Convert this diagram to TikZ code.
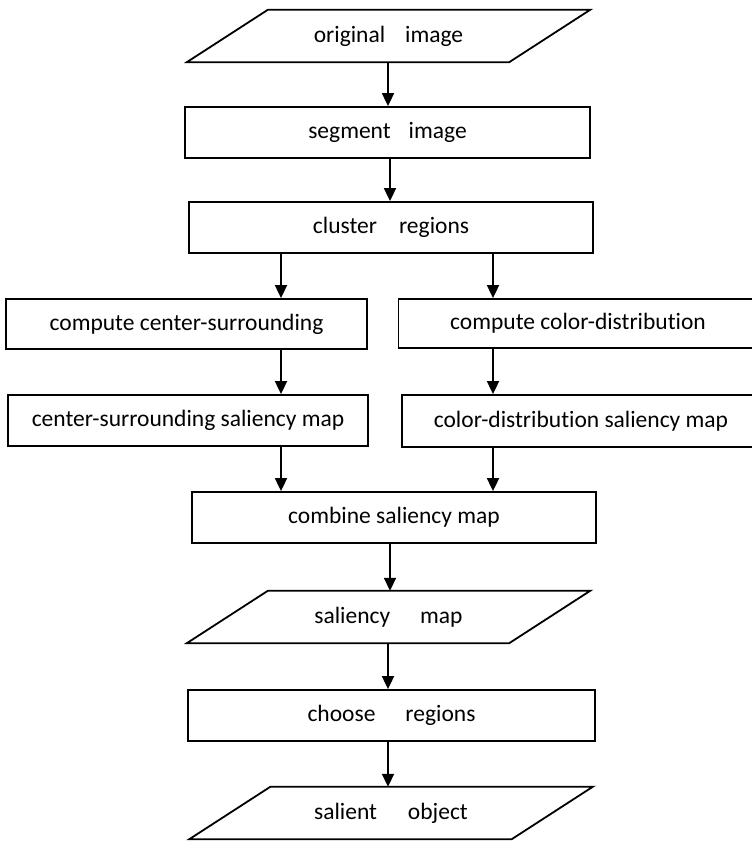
\documentclass[tikz,border=0pt]{standalone}
\usepackage{fontspec}
\setmainfont{Carlito}[Ligatures=NoCommon]
\usetikzlibrary{arrows.meta}
\begin{document}
\begin{tikzpicture}[x=1pt,y=-1pt,
  every node/.style={font=\fontsize{23.5pt}{28pt}\selectfont, inner sep=0pt},
  procbox/.style={draw, line width=1.8pt, rectangle},
  iobox/.style={rectangle, minimum width=322pt, minimum height=52pt},
  arr/.style={line width=1.8pt, -{Triangle[length=13pt,width=12pt]}},
  edge/.style={line width=1.8pt, line join=miter}]
\useasboundingbox (0,0) rectangle (752,841);
% input/output parallelograms
\node[iobox] (oi) at (388.5,36) {original\hspace{20pt}image};
\node[iobox] (sal) at (388.5,617) {saliency\hspace{30pt}map};
\node[iobox] (obj) at (391,813) {salient\hspace{31pt}object};
\foreach \n in {oi,sal,obj}{
  \draw[edge] ([xshift=40.5pt]\n.north west) -- ([xshift=40.5pt]\n.north east)
    -- ([xshift=-40.5pt]\n.south east) -- ([xshift=-40.5pt]\n.south west) -- cycle;
}
% process boxes
\node[procbox, minimum width=405pt, minimum height=51pt] (seg) at (387.5,132.5) {segment\hspace{18pt}image};
\node[procbox, minimum width=404pt, minimum height=51pt] (clu) at (391,227.5) {cluster\hspace{22pt}regions};
\node[procbox, minimum width=361pt, minimum height=50pt] (ccs) at (186.5,324) {compute center-surrounding};
\node[procbox, minimum width=359pt, minimum height=49pt] (ccd) at (578,323.5) {compute color-distribution};
\node[procbox, minimum width=360pt, minimum height=51pt] (csm) at (188,420.5) {center-surrounding saliency map};
\node[procbox, minimum width=358pt, minimum height=52pt] (cdm) at (581,421) {color-distribution saliency map};
\node[procbox, minimum width=404pt, minimum height=51pt] (comb) at (394,517.5) {combine saliency map};
\node[procbox, minimum width=407pt, minimum height=51pt] (cho) at (391.5,715.5) {choose\hspace{30pt}regions};
% arrow columns
\coordinate (xm) at (388,0);
\coordinate (xl) at (281,0);
\coordinate (xr) at (493,0);
\coordinate (xc) at (390,0);
\draw[arr] (oi.south -| xm) -- (seg.north -| xm);
\draw[arr] (seg.south -| xc) -- (clu.north -| xc);
\draw[arr] (clu.south -| xl) -- (ccs.north -| xl);
\draw[arr] (clu.south -| xr) -- (ccd.north -| xr);
\draw[arr] (ccs.south -| xl) -- (csm.north -| xl);
\draw[arr] (ccd.south -| xr) -- (cdm.north -| xr);
\draw[arr] (csm.south -| xl) -- (comb.north -| xl);
\draw[arr] (cdm.south -| xr) -- (comb.north -| xr);
\draw[arr] (comb.south -| xc) -- (sal.north -| xc);
\draw[arr] (sal.south -| xm) -- (cho.north -| xm);
\draw[arr] (cho.south -| xm) -- (obj.north -| xm);
\end{tikzpicture}
\end{document}
